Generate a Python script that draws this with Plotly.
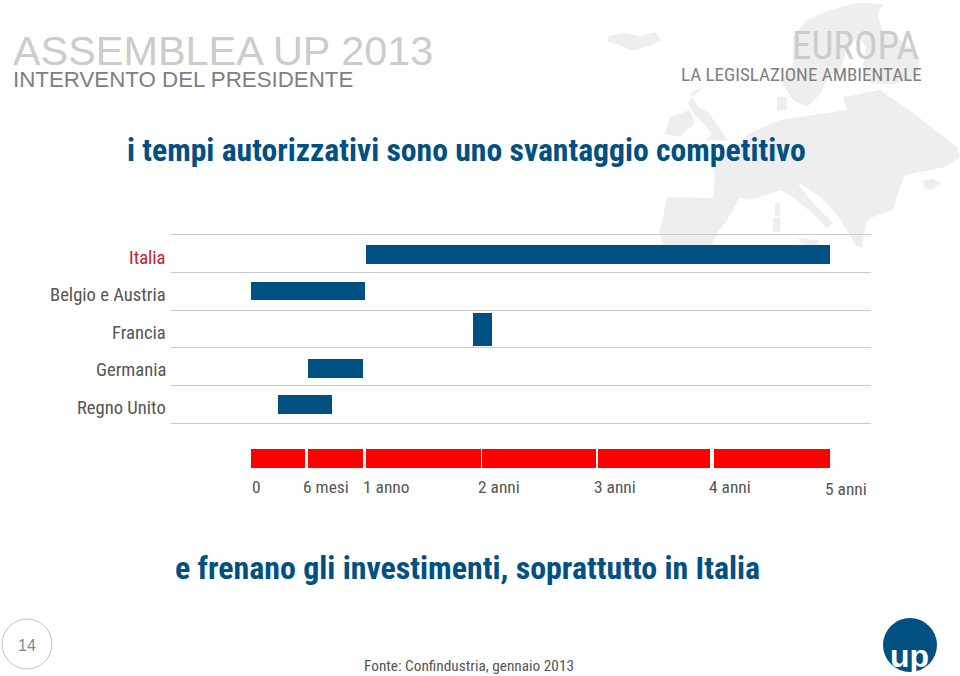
import plotly.graph_objects as go

countries = ["Italia", "Belgio e Austria", "Francia", "Germania", "Regno Unito"]
start_months = [11.95, 0, 22.95, 5.95, 2.8]
end_months = [59.95, 11.85, 24.95, 11.55, 8.4]
bar_heights = [0.5, 0.5, 0.86, 0.5, 0.5]
bar_shift = [-0.24, -0.26, -0.41, -0.19, -0.24]

scale_start = [0, 5.95, 11.95, 23.95, 35.95, 47.95]
scale_end = [5.6, 11.55, 23.8, 35.7, 47.55, 59.95]

tick_months = [0, 6, 12, 24, 36, 48, 60]
tick_labels = ["0", "6 mesi", "1 anno", "2 anni", "3 anni", "4 anni", "5 anni"]
tick_nudge = [-1, -8, -6, -7, -7, -8, -8]
tick_drop = [0, 0, 0, 0, 0, 0, 2]

BLUE = "#005082"
RED = "#ff0000"
NARROW = "Roboto Condensed, DejaVu Sans Condensed, Liberation Sans"
W, H = 960, 676
PX_PER_MONTH = 9.66
X0 = 251


def mx(px):
    return (px - X0) / PX_PER_MONTH


fig = go.Figure()
fig.add_trace(go.Bar(
    y=countries, x=[e - s for s, e in zip(start_months, end_months)], base=start_months,
    orientation="h", width=bar_heights, offset=bar_shift,
    marker=dict(color=BLUE, line=dict(width=0)), xaxis="x", yaxis="y", showlegend=False,
))
fig.add_trace(go.Bar(
    y=["scala"] * len(scale_start), x=[e - s for s, e in zip(scale_start, scale_end)], base=scale_start,
    orientation="h", width=1,
    marker=dict(color=RED, line=dict(width=0)), xaxis="x2", yaxis="y2", showlegend=False,
))

land = [
    [(608,36),(625,33),(640,36),(655,32),(661,40),(650,46),(632,51),(620,45),(608,42)],
    [(703,87),(690,93),(698,107),(708,112),(722,132),(728,141),(706,140),(700,147),(712,134),(704,124),(694,114),(688,102)],
    [(670,117),(690,110),(695,123),(680,137),(665,134)],
    [(857,3),(883,4),(878,14),(882,30),(900,40),(920,57),(917,77),(895,84),(872,84),(862,70),(866,48),(858,35),(846,52),(840,72),(830,74),(820,94),(807,107),(793,100),(780,80),(793,67),(793,37),(807,20),(830,10)],
    [(777,97),(787,97),(787,110),(777,110)],
    [(750,133),(780,120),(813,115),(847,110),(843,97),(880,90),(913,113),(957,147),(960,157),(945,167),(905,175),(900,187),(893,210),(873,217),(866,222),(862,247),(856,246),(848,232),(838,216),(822,198),(797,182),(810,200),(833,223),(827,228),(813,214),(793,197),(780,190),(760,197),(747,200),(740,198),(727,220),(717,233),(712,245),(662,245),(660,232),(667,197),(713,198),(715,173),(713,167),(730,150)],
    [(775,203),(780,203),(780,216),(775,216)],
    [(773,218),(781,218),(780,232),(773,232)],
    [(798,238),(820,240),(815,247),(802,244)],
    [(923,181),(932,179),(942,183),(930,190),(924,187)],
]
shapes = []
for poly in land:
    path = "M" + " L".join(f"{x / W:.4f},{1 - y / H:.4f}" for x, y in poly) + " Z"
    shapes.append(dict(type="path", xref="paper", yref="paper", path=path,
                       fillcolor="#eeeeee", line=dict(width=0), layer="below"))


def circle(cx, cy, r, **kw):
    return dict(type="circle", xref="paper", yref="paper",
                x0=(cx - r) / W, x1=(cx + r) / W, y0=1 - (cy + r) / H, y1=1 - (cy - r) / H, **kw)


shapes.append(circle(910, 645, 27, fillcolor=BLUE, line=dict(width=0)))
shapes.append(circle(27, 644, 25, fillcolor="white", line=dict(color="#c4c4c4", width=1)))


def label(text, px, py, size, color, family="Liberation Sans", anchor="left", weight=None):
    return dict(text=text, xref="paper", yref="paper", x=px / W, y=1 - py / H, showarrow=False,
                xanchor=anchor, yanchor="middle",
                font=dict(family=family, size=size, color=color, weight=weight))


annotations = [
    label("ASSEMBLEA UP 2013", 11, 51, 41.4, "#cccccc", "Liberation Sans"),
    label("INTERVENTO DEL PRESIDENTE", 11, 80, 22.3, "#808080", "Liberation Sans"),
    label("EUROPA", 921, 46, 39, "#cccccc", NARROW, anchor="right"),
    label("LA LEGISLAZIONE AMBIENTALE", 924, 74, 19, "#808080", NARROW, anchor="right"),
    label("i tempi autorizzativi sono uno svantaggio competitivo", 466, 151, 31.7, BLUE, NARROW, anchor="center", weight=700),
    label("e frenano gli investimenti, soprattutto in Italia", 467, 568, 31.9, BLUE, NARROW, anchor="center", weight=700),
    label("Fonte: Confindustria, gennaio 2013", 469, 666, 15.3, "#555555", NARROW, anchor="center"),
    label("14", 27, 645, 16, "#888888", "Liberation Sans", anchor="center"),
    label("up", 909, 656, 32, "white", "Liberation Sans", anchor="center", weight=700),
]
for m, t, n, d in zip(tick_months, tick_labels, tick_nudge, tick_drop):
    annotations.append(dict(text=t, xref="x2", yref="paper", x=m, y=1 - 487 / H, showarrow=False,
                            xanchor="left", yanchor="middle", xshift=n, yshift=-d,
                            font=dict(family=NARROW, size=17.4, color="#555555")))
for c in countries:
    annotations.append(dict(text=c, xref="paper", yref="y", x=168 / W, y=c, showarrow=False,
                            xanchor="right", yanchor="middle", yshift=-3.5,
                            font=dict(family=NARROW, size=18.6,
                                      color="#c8202c" if c == "Italia" else "#555555")))

fig.update_layout(
    width=W, height=H, margin=dict(l=0, r=0, t=0, b=0), paper_bgcolor="white", plot_bgcolor="rgba(0,0,0,0)",
    barmode="overlay", bargap=0, shapes=shapes, annotations=annotations,
    xaxis=dict(domain=[171 / W, 871 / W], range=[mx(171), mx(871)], showticklabels=False, ticks="",
               showgrid=False, zeroline=False, showline=True, mirror=True, linecolor="#cacaca", linewidth=1.3),
    yaxis=dict(domain=[1 - 423 / H, 1 - 235.3 / H], type="category", categoryorder="array",
               categoryarray=countries, range=[4.5, -0.5], tickson="boundaries",
               tickmode="array", tickvals=countries, showticklabels=False,
               showgrid=True, gridcolor="#cacaca", gridwidth=1.3, zeroline=False,
               showline=False, ticks="", anchor="x"),
    xaxis2=dict(domain=[171 / W, 871 / W], range=[mx(171), mx(871)], visible=False, anchor="y2"),
    yaxis2=dict(domain=[1 - 468 / H, 1 - 449 / H], type="category", range=[-0.5, 0.5],
                visible=False, anchor="x2"),
)

fig.write_html("out.html", config={"displayModeBar": False},
               post_script="document.body.style.margin='0';document.body.style.overflow='hidden';")
